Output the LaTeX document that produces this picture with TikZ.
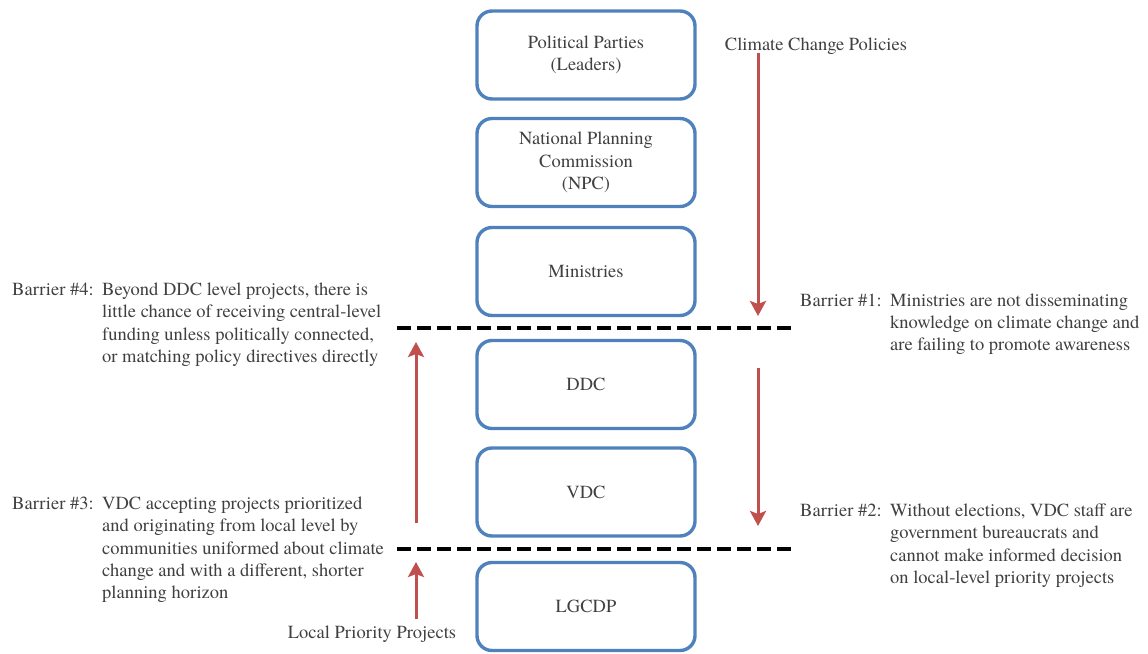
\documentclass[tikz,border=0pt]{standalone}
\usepackage{fontspec}
\IfFontExistsTF{texgyretermes-regular.otf}{\setmainfont{texgyretermes-regular.otf}}{\setmainfont{Liberation Serif}}
\usetikzlibrary{arrows.meta}
\definecolor{boxblue}{HTML}{4F81BD}
\definecolor{arrred}{HTML}{C0504D}
\definecolor{txtgray}{HTML}{404040}
\begin{document}
\begin{tikzpicture}[x=1pt,y=-1pt,
  txt/.style={text=txtgray,font=\fontsize{18.5}{22.3}\selectfont,inner sep=0pt},
  levelbox/.style={txt,draw=boxblue,line width=3.4pt,rounded corners=15pt,
    minimum width=218pt,minimum height=88pt,align=center,fill=white},
  redarrow/.style={draw=arrred,line width=3pt,-{Stealth[width=16pt,length=15pt,inset=3pt]}},
  barrierline/.style={draw=black,line width=4.5pt,dash pattern=on 14pt off 6pt},
  lbl/.style={txt,anchor=base west},
  para/.style={txt,anchor=north west,align=left}]
\useasboundingbox (0,0) rectangle (1148,653);
% boxes
\node[levelbox] (pp) at (586,55) {Political Parties\\(Leaders)};
\node[levelbox] (npc) at (586,162.5) {National Planning\\Commission\\(NPC)};
\node[levelbox] (min) at (586,271.5) {Ministries};
\node[levelbox] (ddc) at (586,384.5) {DDC};
\node[levelbox] (vdc) at (586,492) {VDC};
\node[levelbox] (lg) at (586,606.5) {LGCDP};
% dashed barrier lines
\coordinate (d1a) at (397,328);
\coordinate (d1b) at (793,328);
\coordinate (d2a) at (397,549);
\coordinate (d2b) at (793,549);
\draw[barrierline] (d1a) -- (d1b);
\draw[barrierline] (d2a) -- (d2b);
% top labels
\node[txt,anchor=base] (ccp) at (816,50) {Climate Change Policies};
\node[txt,anchor=base] (lpp) at (372,638) {Local Priority Projects};
% arrows
\coordinate (r1s) at (758,53);
\coordinate (r1e) at (758,316);
\coordinate (r2s) at (758,368);
\coordinate (r2e) at (758,526);
\coordinate (l1s) at (416,523);
\coordinate (l1e) at (416,342);
\coordinate (l2s) at (416,619);
\coordinate (l2e) at (416,562);
\draw[redarrow] (r1s) -- (r1e);
\draw[redarrow] (r2s) -- (r2e);
\draw[redarrow] (l1s) -- (l1e);
\draw[redarrow] (l2s) -- (l2e);
% barrier texts
\node[lbl] (b4l) at (12,295.5) {Barrier \#4:};
\node[para] (b4t) at (102,282.8) {Beyond DDC level projects, there is\\little chance of receiving central-level\\funding unless politically connected,\\or matching policy directives directly};
\node[lbl] (b1l) at (800,306) {Barrier \#1:};
\node[para] (b1t) at (890,293.3) {Ministries are not disseminating\\knowledge on climate change and\\are failing to promote awareness};
\node[lbl] (b3l) at (12,509.5) {Barrier \#3:};
\node[para] (b3t) at (102,496.8) {VDC accepting projects prioritized\\and originating from local level by\\communities uniformed about climate\\change and with a different, shorter\\planning horizon};
\node[lbl] (b2l) at (800,516.5) {Barrier \#2:};
\node[para] (b2t) at (890,503.8) {Without elections, VDC staff are\\government bureaucrats and\\cannot make informed decision\\on local-level priority projects};
\end{tikzpicture}
\end{document}
